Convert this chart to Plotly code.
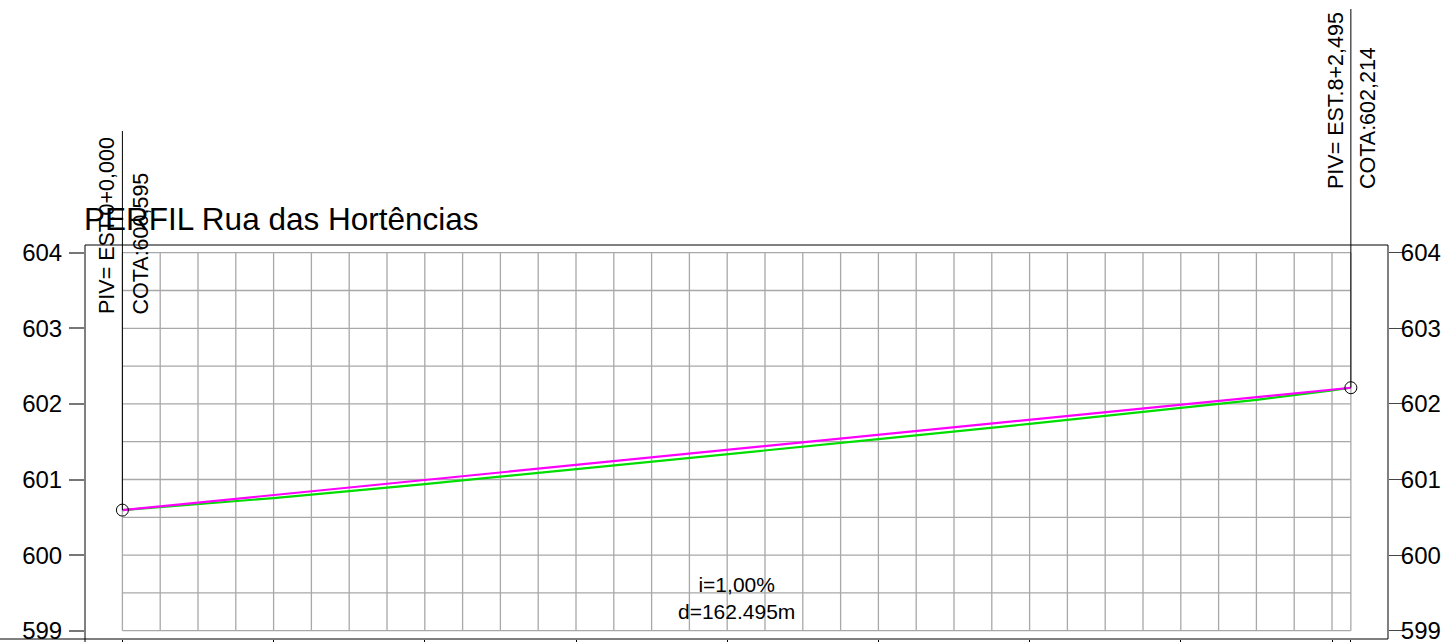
import plotly.graph_objects as go

# ---------------- data ----------------
title_text = "PERFIL Rua das Hortências"
piv_stations = [0.0, 162.495]
piv_elev = [600.595, 602.214]
piv_labels = ["PIV= EST.0+0,000", "PIV= EST.8+2,495"]
cota_labels = ["COTA:600,595", "COTA:602,214"]

# terrain (green)
terrain_x = [0, 10, 20, 40, 60, 80, 100, 120, 140, 150, 160, 162.495]
terrain_y = [600.595, 600.675, 600.754, 600.939, 601.135, 601.332, 601.533,
             601.736, 601.945, 602.054, 602.177, 602.214]

slope_text = "i=1,00%"
dist_text = "d=162.495m"

y_ticks = [599, 600, 601, 602, 603, 604]
x_ticks = [0, 20, 40, 60, 80, 100, 120, 140, 160, 162.495]
grid_x = [0, 5, 10, 15, 20, 25, 30, 35, 40, 45, 50, 55, 60, 65, 70, 75, 80, 85,
          90, 95, 100, 105, 110, 115, 120, 125, 130, 135, 140, 145, 150, 155,
          160, 162.495]
grid_y = [599, 599.5, 600, 600.5, 601, 601.5, 602, 602.5, 603, 603.5, 604]

# ---------------- layout geometry ----------------
W, H = 1453, 642
L, R, T, B = 85, 1388, 245, 639
PW, PH = R - L, B - T
X0PX, KX = 122.4, 7.56     # pixel of station 0, px per metre
Y604PX, KY = 252.7, 75.6   # pixel of elevation 604, px per metre
xr = [(L - X0PX) / KX, (R - X0PX) / KX]
yr = [604 - (B - Y604PX) / KY, 604 + (Y604PX - T) / KY]


def pxx(X):
    return (X - L) / PW


def pxy(Y):
    return (B - Y) / PH


FONT = "Liberation Sans, Arial, sans-serif"
GRID = "#a8a8a8"

fig = go.Figure()

# grid
gx, gy = [], []
for xv in grid_x:
    gx += [xv, xv, None]
    gy += [grid_y[0], grid_y[-1], None]
for yv in grid_y:
    gx += [grid_x[0], grid_x[-1], None]
    gy += [yv, yv, None]
fig.add_trace(go.Scatter(x=gx, y=gy, mode="lines",
                         line=dict(color=GRID, width=1.3),
                         hoverinfo="skip", showlegend=False))

# terrain
fig.add_trace(go.Scatter(x=terrain_x, y=terrain_y, mode="lines",
                         line=dict(color="#00dd00", width=2.2),
                         showlegend=False))
# grade line
fig.add_trace(go.Scatter(x=piv_stations, y=piv_elev, mode="lines",
                         line=dict(color="#ff00ff", width=2.2),
                         showlegend=False))

# PIV vertical lines
for s, e in zip(piv_stations, piv_elev):
    fig.add_shape(type="line", xref="x", yref="y", x0=s, x1=s, y0=e, y1=yr[1],
                  line=dict(color="black", width=1))
top_px = [131, 9]
for s, tp in zip(piv_stations, top_px):
    fig.add_shape(type="line", xref="x", yref="paper", x0=s, x1=s,
                  y0=1, y1=pxy(tp), line=dict(color="black", width=1))

# PIV circles
fig.add_trace(go.Scatter(x=piv_stations, y=piv_elev, mode="markers",
                         marker=dict(symbol="circle-open", size=12,
                                     color="black", line=dict(width=1)),
                         cliponaxis=False, showlegend=False))

# invisible trace for right axis
fig.add_trace(go.Scatter(x=[piv_stations[0]], y=[piv_elev[0]], yaxis="y2",
                         mode="markers", marker=dict(opacity=0),
                         hoverinfo="skip", showlegend=False))

# frame
fig.add_shape(type="rect", xref="paper", yref="paper", x0=0, x1=1, y0=0, y1=1,
              line=dict(color="black", width=1))
fig.add_shape(type="line", xref="paper", yref="paper", x0=pxx(0), x1=0,
              y0=0, y1=0, line=dict(color="black", width=1))
fig.add_shape(type="line", xref="paper", yref="paper", x0=0, x1=0,
              y0=0, y1=pxy(650), line=dict(color="black", width=1))

# title
fig.add_annotation(text=title_text, xref="paper", yref="paper",
                   x=pxx(82), y=pxy(219), xanchor="left", yanchor="middle",
                   showarrow=False, font=dict(family=FONT, size=31.5, color="black"))

# PIV labels (rotated)
label_pos = [(107, 316.5, 140, 316.5), (1336, 191.5, 1368.5, 191.5)]
for (px1, py1, px2, py2), t1, t2 in zip(label_pos, piv_labels, cota_labels):
    fig.add_annotation(text=t1, xref="paper", yref="paper", x=pxx(px1), y=pxy(py1),
                       xanchor="center", yanchor="bottom", textangle=-90,
                       showarrow=False, font=dict(family=FONT, size=21.5, color="black"))
    fig.add_annotation(text=t2, xref="paper", yref="paper", x=pxx(px2), y=pxy(py2),
                       xanchor="center", yanchor="bottom", textangle=-90,
                       showarrow=False, font=dict(family=FONT, size=21.5, color="black"))

# slope / distance
fig.add_annotation(text=slope_text + "<br>" + dist_text, xref="x", yref="paper",
                   x=piv_stations[1] / 2, y=pxy(597.5), xanchor="center",
                   yanchor="middle", showarrow=False,
                   font=dict(family=FONT, size=21, color="black"))

axis_font = dict(family=FONT, size=24, color="black")
fig.update_layout(
    width=W, height=H,
    margin=dict(l=L, r=W - R, t=T, b=H - B, pad=0),
    paper_bgcolor="white", plot_bgcolor="white",
    template="none",
    showlegend=False,
    xaxis=dict(range=xr, showgrid=False, zeroline=False, showline=False,
               tickmode="array", tickvals=x_ticks, ticks="outside", ticklen=8,
               tickcolor="black", tickwidth=1, showticklabels=False,
               automargin=False, fixedrange=True),
    yaxis=dict(range=yr, showgrid=False, zeroline=False, showline=False,
               tickmode="array", tickvals=y_ticks, ticks="outside", ticklen=15,
               tickcolor="#777777", tickwidth=1.5, tickfont=axis_font,
               ticklabelstandoff=2, ticklabeloverflow="allow",
               automargin=False, fixedrange=True),
    yaxis2=dict(range=yr, overlaying="y", side="right", showgrid=False,
                zeroline=False, showline=False, tickmode="array",
                tickvals=y_ticks, ticks="outside", ticklen=14,
                tickcolor="#444444", tickwidth=1.2, tickfont=axis_font,
                ticklabelstandoff=-7, ticklabeloverflow="allow",
                automargin=False, fixedrange=True),
)

fig.write_html("out.html", config={"displayModeBar": False},
               post_script="document.body.style.margin='0';"
                           "document.body.style.overflow='hidden';")
